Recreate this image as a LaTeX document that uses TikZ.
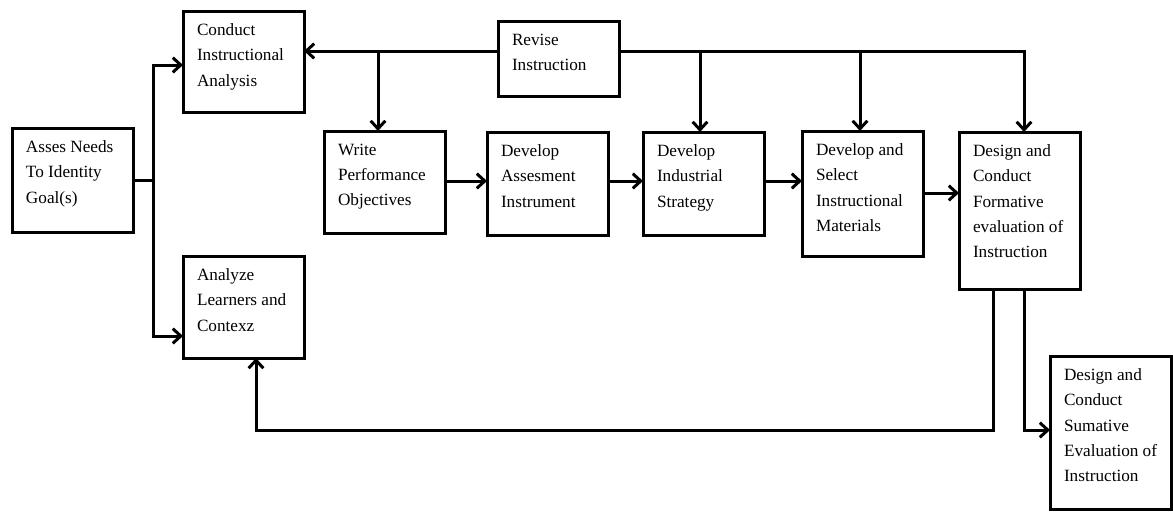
\documentclass[tikz,border=0pt]{standalone}
\usepackage{fontspec}
\setmainfont{Liberation Serif}
\usetikzlibrary{arrows.meta}

\newcommand{\boxtext}[2]{\parbox[t][#1][t]{69.75pt}{#2}}

\tikzset{
  stage/.style={draw, line width=2.25pt, anchor=north west, inner xsep=10.5pt, inner ysep=9.5pt, outer sep=0pt, font=\fontsize{12.9}{19}\selectfont},
  link/.style={line width=2.25pt},
  flow/.style={link, -{Straight Barb[length=6pt,width=11pt]}}
}

\begin{document}
\begin{tikzpicture}[x=0.75pt,y=0.75pt,yscale=-1,xscale=1]
\useasboundingbox (0,0) rectangle (1173,511);
%Shape: Rectangle [need]
\node[stage] (need) at (12,128) {\boxtext{59pt}{Asses Needs\\To Identity\\Goal(s)}};
%Shape: Rectangle [cia]
\node[stage] (cia) at (183,11) {\boxtext{56.75pt}{Conduct\\Instructional\\Analysis}};
%Shape: Rectangle [alc]
\node[stage] (alc) at (183,256) {\boxtext{57.5pt}{Analyze\\Learners and\\Contexz}};
%Shape: Rectangle [rev]
\node[stage] (rev) at (498,21) {\boxtext{37.25pt}{Revise\\Instruction}};
%Shape: Rectangle [wpo]
\node[stage] (wpo) at (324,131) {\boxtext{57.5pt}{Write\\Performance\\Objectives}};
%Shape: Rectangle [dai]
\node[stage] (dai) at (487,132) {\boxtext{58.25pt}{Develop\\Assesment\\Instrument}};
%Shape: Rectangle [dis]
\node[stage] (dis) at (643,132) {\boxtext{58.25pt}{Develop\\Industrial\\Strategy}};
%Shape: Rectangle [dsm]
\node[stage] (dsm) at (802,131) {\boxtext{74.75pt}{Develop and\\Select\\Instructional\\Materials}};
%Shape: Rectangle [dcf]
\node[stage] (dcf) at (959,132) {\boxtext{98.75pt}{Design and\\Conduct\\Formative\\evaluation of\\Instruction}};
%Shape: Rectangle [dcs]
\node[stage] (dcs) at (1050,356) {\boxtext{95.75pt}{Design and\\Conduct\\Sumative\\Evaluation of\\Instruction}};

% junctions
\coordinate (fork) at (153,180);
\coordinate (busA) at (378,51);
\coordinate (busB) at (700,51);
\coordinate (busC) at (860,51);
\coordinate (busD) at (1024,51);
\coordinate (loopL) at (256,430);
\coordinate (loopR) at (993,430);

%Straight Lines
\draw[link] (need.east |- fork) -- (fork);
\draw[flow] (fork) |- (cia.west |- 0,65);
\draw[flow] (fork) |- (alc.west |- 0,336);
%Revise bus
\draw[flow] (rev.west |- busA) -- (cia.east |- busA);
\draw[flow] (busA) -- (busA |- wpo.north);
\draw[flow] (rev.east |- busD) -| (busD |- dcf.north);
\draw[flow] (busB) -- (busB |- dis.north);
\draw[flow] (busC) -- (busC |- dsm.north);
%Main chain
\draw[flow] (wpo.east |- 0,181) -- (dai.west |- 0,181);
\draw[flow] (dai.east |- 0,181) -- (dis.west |- 0,181);
\draw[flow] (dis.east |- 0,181) -- (dsm.west |- 0,181);
\draw[flow] (dsm.east |- 0,193) -- (dcf.west |- 0,193);
%Feedback and summative
\draw[flow] (loopR |- dcf.south) -- (loopR) -- (loopL) -- (loopL |- alc.south);
\draw[flow] (busD |- dcf.south) |- (dcs.west |- loopL);
\end{tikzpicture}
\end{document}
